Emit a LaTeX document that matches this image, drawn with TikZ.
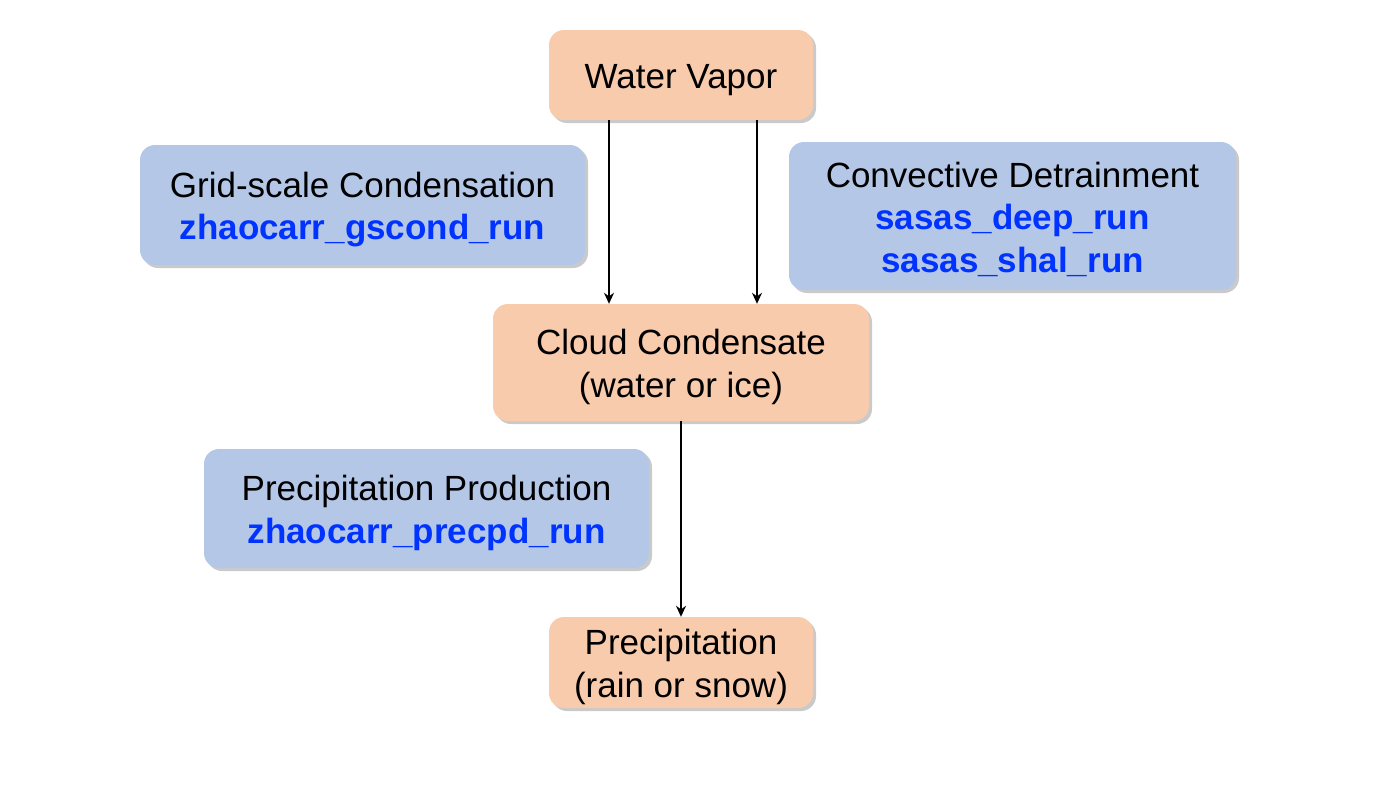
\documentclass[tikz,border=0pt]{standalone}
\usepackage{fontspec}
\setmainfont{Liberation Sans}
\usetikzlibrary{shadows,arrows.meta}
\definecolor{peach}{HTML}{F8CBAD}
\definecolor{lblue}{HTML}{B4C7E7}
\definecolor{codeblue}{HTML}{0033FF}
\tikzset{
  basebox/.style={rounded corners=15pt, inner sep=0pt,
    font=\fontsize{35}{42.5}\selectfont,
    drop shadow={shadow xshift=3pt, shadow yshift=-3pt, opacity=0.35, fill=black!60}},
  statebox/.style={basebox, fill=peach},
  procbox/.style={basebox, fill=lblue},
  flow/.style={line width=1.8pt, -{Stealth[length=11pt,width=10pt]}},
}
\newcommand{\code}[1]{{\bfseries\color{codeblue}#1}}
\newcommand{\lines}[1]{\raisebox{-5pt}[\height][\depth]{\begin{tabular}{@{}c@{}}#1\end{tabular}}}
\begin{document}
\begin{tikzpicture}[x=1pt,y=-1pt]
\useasboundingbox (0,0) rectangle (1400,788);
\node[statebox, minimum width=264pt, minimum height=90pt] (wv) at (681,75) {\lines{Water Vapor}};
\node[procbox, minimum width=445pt, minimum height=120pt] (gs) at (362.5,205) {\lines{Grid-scale Condensation\\\code{zhaocarr\_gscond\_run}}};
\node[procbox, minimum width=447pt, minimum height=148pt] (cd) at (1012.5,216) {\lines{Convective Detrainment\\\code{sasas\_deep\_run}\\\code{sasas\_shal\_run}}};
\node[statebox, minimum width=376pt, minimum height=117pt] (cc) at (681,362.5) {\lines{Cloud Condensate\\(water or ice)}};
\node[procbox, minimum width=445pt, minimum height=119pt] (pp) at (426.5,508.5) {\lines{Precipitation Production\\\code{zhaocarr\_precpd\_run}}};
\node[statebox, minimum width=264pt, minimum height=91pt] (pr) at (681,662.5) {\lines{Precipitation\\(rain or snow)}};
\draw[flow] ([xshift=-72pt]wv.south) -- ([xshift=-72pt]cc.north);
\draw[flow] ([xshift=76pt]wv.south) -- ([xshift=76pt]cc.north);
\draw[flow] (cc.south) -- (pr.north);
\end{tikzpicture}
\end{document}
